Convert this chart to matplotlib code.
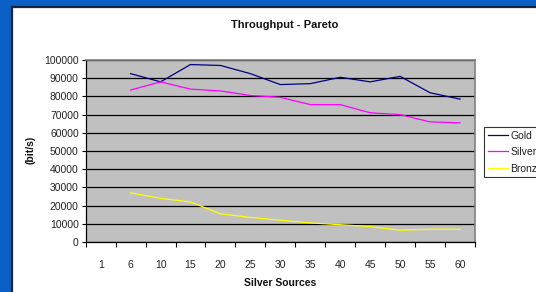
import numpy as np
import matplotlib.pyplot as plt
from matplotlib.patches import Rectangle
from matplotlib.lines import Line2D

plt.rcParams['font.family'] = ['Liberation Sans', 'DejaVu Sans']

categories = ["1", "6", "10", "15", "20", "25", "30", "35", "40", "45", "50", "55", "60"]
gold = [np.nan, 92500, 88000, 97500, 97000, 92500, 86500, 87000, 90500, 88000, 91000, 82000, 78500]
silver = [np.nan, 83500, 88000, 84000, 83000, 80500, 79500, 75500, 75500, 71000, 70000, 66000, 65500]
bronze = [np.nan, 27000, 24000, 22000, 15500, 13500, 12000, 10500, 9500, 8500, 6500, 7000, 7000]

W, H = 536, 292
fig = plt.figure(figsize=(W / 100, H / 100), dpi=100)
fig.patch.set_facecolor("#0a60c6")

# white chart sheet with dark shadow edge on top/left
x0, y0 = 12 / W, 1 - 7 / H
fig.patches.append(Rectangle((x0, 0), 1 - x0, y0, transform=fig.transFigure,
                             facecolor="white", edgecolor="none", zorder=-10))
fig.lines.append(Line2D([x0, x0], [0, y0], transform=fig.transFigure, color="#14243a",
                        lw=1.6, zorder=-5))
fig.lines.append(Line2D([x0, 1], [y0, y0], transform=fig.transFigure, color="#14243a",
                        lw=1.6, zorder=-5))

ax = fig.add_axes([85.7 / W, 1 - 242 / H, (475 - 85.7) / W, (242 - 60) / H])
ax.set_facecolor("#c0c0c0")

x = np.arange(len(categories))
ax.plot(x, gold, color="#000080", lw=0.9, label="Gold")
ax.plot(x, silver, color="#ff00ff", lw=0.9, label="Silver")
ax.plot(x, bronze, color="#ffff00", lw=0.9, label="Bronze")

ax.set_xlim(-0.5, len(categories) - 0.5)
ax.set_ylim(0, 100000)
ax.set_yticks(np.arange(0, 100001, 10000))
ax.set_yticklabels([str(v) for v in range(0, 100001, 10000)], fontsize=7.5, color="#222222")
ax.yaxis.grid(True, color="black", lw=0.9)
ax.set_axisbelow(True)

ax.set_xticks(np.arange(-0.5, len(categories)), labels=[])
ax.set_xticks(x, labels=categories, minor=True)
ax.tick_params(axis="x", which="major", length=3.5, direction="out", color="black", width=0.8)
ax.tick_params(axis="x", which="minor", length=0, labelsize=7.5, labelcolor="#222222", pad=13)
ax.tick_params(axis="y", length=3, direction="out", color="black", width=0.8, pad=2)

for s in ["top", "right"]:
    ax.spines[s].set_color("#808080")
    ax.spines[s].set_linewidth(1.2)
for s in ["left", "bottom"]:
    ax.spines[s].set_color("black")
    ax.spines[s].set_linewidth(0.9)

fig.text(0.531, 1 - 25 / H, "Throughput - Pareto", ha="center", va="center",
         fontsize=8, fontweight="bold", color="#111111")
fig.text(0.523, 1 - 283 / H, "Silver Sources", ha="center", va="center",
         fontsize=7.5, fontweight="bold", color="#111111")
fig.text(31 / W, 1 - 150 / H, "(bit/s)", ha="center", va="center", rotation=90,
         fontsize=7.5, fontweight="bold", color="#111111")

leg = fig.legend(loc="upper left", bbox_to_anchor=(484 / W, 1 - 127 / H), fontsize=7.5,
                 frameon=True, fancybox=False, handlelength=2.0, handletextpad=0.2,
                 borderpad=0.35, labelspacing=0.62, borderaxespad=0)
leg.get_frame().set_edgecolor("black")
leg.get_frame().set_linewidth(0.8)
for t in leg.get_texts():
    t.set_color("#222222")

fig.savefig("out.png", dpi=100, facecolor=fig.get_facecolor())
